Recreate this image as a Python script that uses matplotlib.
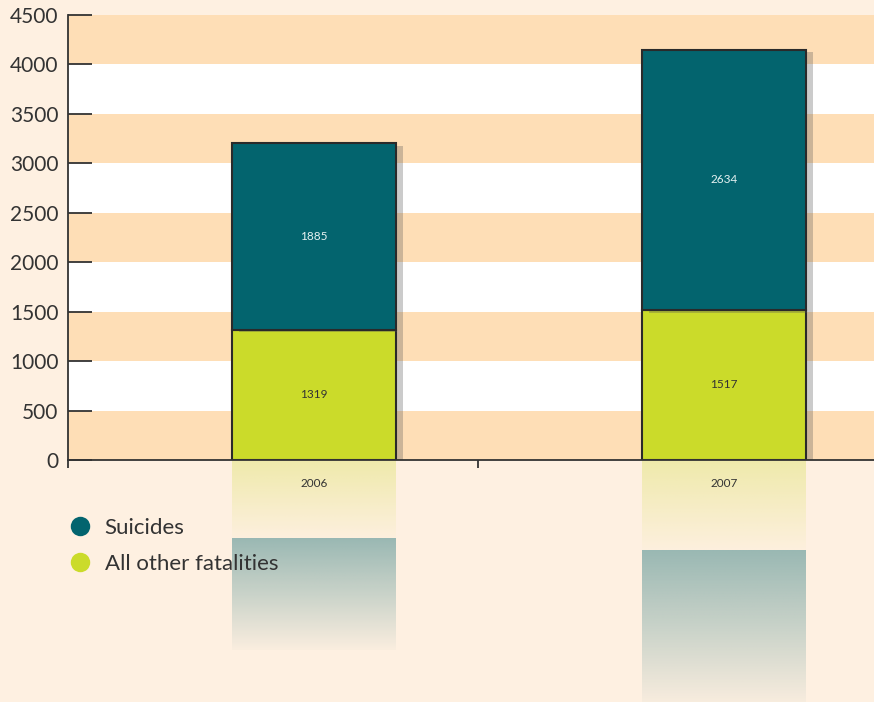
import numpy as np
import matplotlib.pyplot as plt
from matplotlib.lines import Line2D
from matplotlib import patheffects as pe
from matplotlib.colors import to_rgb

# Datos: muertes por año
years = ['2006', '2007']
suicides = [1885, 2634]
others = [1319, 1517]
yticks = [0, 500, 1000, 1500, 2000, 2500, 3000, 3500, 4000, 4500]

teal = '#03646e'
lime = '#cbdb2a'
bg = '#fef0e1'
peach = '#fedeb6'
ink = '#333333'

plt.rcParams['font.family'] = ['Lato', 'DejaVu Sans']

fig = plt.figure(figsize=(8.74, 7.02), dpi=100, facecolor=bg)
ax = fig.add_axes([68/874, 242/702, 820/874, 445/702])
ax.set_facecolor('white')

# franjas horizontales del fondo
for lo in range(0, 4500, 1000):
    ax.axhspan(lo, lo + 500, color=peach, lw=0, zorder=0)

x = np.array([0.6, 1.6])
w = 0.4
shadow = [pe.SimplePatchShadow(offset=(5, -2), shadow_rgbFace='#555555', alpha=0.3), pe.Normal()]

b1 = ax.bar(x, others, w, color=lime, edgecolor='#2a2a2a', lw=1.5, zorder=3)
b2 = ax.bar(x, suicides, w, bottom=others, color=teal, edgecolor='#2a2a2a', lw=1.5, zorder=3)
for p in list(b1) + list(b2):
    p.set_path_effects(shadow)

# valores dentro de las barras
for xi, o, s in zip(x, others, suicides):
    ax.text(xi, o / 2, str(o), ha='center', va='center', fontsize=8.5, color=ink, zorder=5)
    ax.text(xi, o + s / 2, str(s), ha='center', va='center', fontsize=8.5, color='#e6f2f2', zorder=5)

# reflejo degradado bajo el eje
def reflejo(xc, top, bottom, color, a0):
    n = 100
    rgba = np.zeros((n, 1, 4))
    rgba[:, 0, :3] = to_rgb(color)
    rgba[:, 0, 3] = np.linspace(a0, 0.02, n)
    ax.imshow(rgba, extent=(xc - w/2, xc + w/2, bottom, top), aspect='auto',
              origin='upper', clip_on=False, zorder=1, interpolation='bilinear')

k = 0.6
for xi, o, s in zip(x, others, suicides):
    reflejo(xi, 0, -k * o, lime, 0.3)
    reflejo(xi, -k * o, -k * (o + s), teal, 0.4)

ax.set_xlim(0, 2)
ax.set_ylim(0, 4500)

for side in ['top', 'right']:
    ax.spines[side].set_visible(False)
for side in ['left', 'bottom']:
    ax.spines[side].set_color(ink)
    ax.spines[side].set_linewidth(1.3)
    ax.spines[side].set_zorder(4)

ax.set_yticks(yticks)
ax.tick_params(axis='y', direction='in', length=17, width=1.3, color=ink,
               labelsize=15, labelcolor=ink, pad=7)
ax.set_xticks([0, 1])
ax.set_xticklabels([])
ax.tick_params(axis='x', which='major', direction='out', length=6, width=1.3, color=ink)
ax.set_xticks(x, minor=True)
ax.set_xticklabels(years, minor=True)
ax.tick_params(axis='x', which='minor', length=0, labelsize=8.5, labelcolor=ink, pad=13)

handles = [Line2D([], [], ls='', marker='o', ms=14, color=teal, mec='none'),
           Line2D([], [], ls='', marker='o', ms=14, color=lime, mec='none')]
fig.legend(handles, ['Suicides', 'All other fatalities'], loc='upper left',
           bbox_to_anchor=(69/874, 1 - 518/702), frameon=False, fontsize=16,
           handlelength=1.0, handletextpad=0.6, labelspacing=0.72,
           borderpad=0, borderaxespad=0, labelcolor=ink)

fig.savefig('out.png', dpi=100, facecolor=bg)
